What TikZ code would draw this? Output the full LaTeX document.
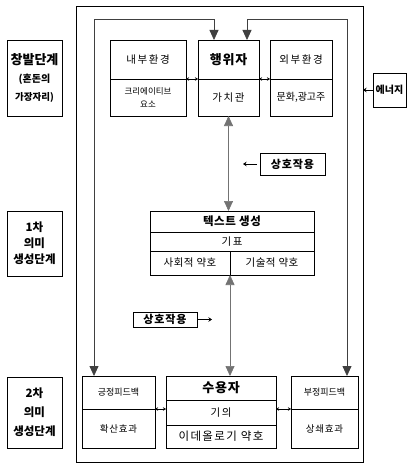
\documentclass[tikz,border=0pt]{standalone}
\usepackage{fontspec}
\setmainfont{Noto Sans CJK KR}
\usetikzlibrary{arrows.meta}
\newcommand{\fsz}[2]{\fontsize{#1}{#2}\selectfont}
\newcommand{\lsp}[1]{\addfontfeature{LetterSpace=#1}}
\begin{document}
\begin{tikzpicture}[x=1pt,y=-1pt,
  cell/.style={draw,line width=0.8pt,inner sep=0pt,outer sep=0pt,align=center,anchor=center},
  frame/.style={draw,line width=0.9pt,inner sep=0pt,outer sep=0pt},
  loop/.style={draw=black!75,line width=0.8pt},
  con/.style={draw=black!55,line width=0.7pt},
  bigtip/.style={{Triangle[width=9pt,length=10pt]}-{Triangle[width=9pt,length=10pt]}},
  smalltip/.style={{Stealth[length=3pt,width=3.5pt]}-{Stealth[length=3pt,width=3.5pt]}},
  tipl/.style={-{Stealth[length=3.5pt,width=4.5pt]}},
  hd/.style={font=\fsz{13}{14}\bfseries\lsp{6}},
  tx/.style={font=\fsz{10.5}{12}\lsp{15}},
  ]
\useasboundingbox (0,0) rectangle (410,468);
\fill[white] (0,0) rectangle (410,468);
% outer frame
\node[frame,minimum width=287,minimum height=456] (outer) at (219.5,234) {};
% left stage labels
\node[cell,minimum width=55,minimum height=76,font=\fsz{13}{19}\bfseries] (s0) at (34.5,78) {창발단계\\[-1pt]{\fsz{10}{19}(혼돈의}\\[-1pt]{\fsz{9.5}{19}가장자리)}};
\node[cell,minimum width=55,minimum height=65,font=\fsz{11.5}{16}\bfseries] (s1) at (34.5,243.5) {1차\\의미\\생성단계};
\node[cell,minimum width=55,minimum height=71,font=\fsz{11.5}{19}\bfseries] (s2) at (34.5,412.5) {2차\\의미\\생성단계};
% top row
\node[cell,minimum width=76,minimum height=39,tx] (naeT) at (148,59.5) {내부환경};
\node[cell,minimum width=76,minimum height=37,font=\fsz{8.5}{13}] (naeB) at (148,97.5) {크리에이티브\\요소};
\node[cell,minimum width=61,minimum height=39,hd] (haengT) at (228.5,59.5) {행위자};
\node[cell,minimum width=61,minimum height=37,tx] (haengB) at (228.5,97.5) {가치관};
\node[cell,minimum width=62,minimum height=39,tx] (oeT) at (301,59.5) {외부환경};
\node[cell,minimum width=62,minimum height=37,font=\fsz{10}{12}] (oeB) at (301,97.5) {문화,광고주};
\node[cell,minimum width=33,minimum height=34,font=\fsz{10}{12}\bfseries] (en) at (389.5,90) {에너지};
% text generation
\node[cell,minimum width=164,minimum height=21,font=\fsz{11.5}{13}\bfseries\lsp{5}] (tT) at (232,221.5) {텍스트 생성};
\node[cell,minimum width=164,minimum height=19,tx] (tM) at (232,241.5) {기표};
\node[cell,minimum width=80,minimum height=24,font=\fsz{10.5}{12}\lsp{5}] (tL) at (190,263) {사회적 약호};
\node[cell,minimum width=84,minimum height=24,font=\fsz{10.5}{12}\lsp{5}] (tR) at (272,263) {기술적 약호};
% interaction labels
\node[cell,minimum width=65,minimum height=22,font=\fsz{11}{13}\bfseries\lsp{8}] (i1) at (292.5,164) {상호작용};
\node[cell,minimum width=64,minimum height=15,font=\fsz{11}{13}\bfseries\lsp{8}] (i2) at (165,319.5) {상호작용};
\coordinate (i1e) at (243,164);
\coordinate (i2e) at (212,319.5);
% bottom row
\node[cell,minimum width=73,minimum height=33,font=\fsz{9}{11}] (gT) at (118.5,392.5) {긍정피드백};
\node[cell,minimum width=73,minimum height=39,font=\fsz{9.5}{11}\lsp{8}] (gB) at (118.5,428.5) {확산효과};
\node[cell,minimum width=110,minimum height=24,hd] (sT) at (221,388) {수용자};
\node[cell,minimum width=110,minimum height=25,tx] (sM) at (221,412.5) {기의};
\node[cell,minimum width=110,minimum height=23,font=\fsz{11.5}{13}\lsp{12}] (sB) at (221,436.5) {이데올로기 약호};
\node[cell,minimum width=67,minimum height=33,font=\fsz{9}{11}] (bT) at (324.5,392.5) {부정피드백};
\node[cell,minimum width=67,minimum height=39,font=\fsz{9.5}{11}\lsp{8}] (bB) at (324.5,428.5) {상쇄효과};
% loop lines
\coordinate (L) at (94,19);
\coordinate (R) at (347,19);
\draw[loop,bigtip] ([xshift=-24.5pt]gT.north) -- (L) -| ([xshift=-14.5pt]haengT.north);
\draw[loop,bigtip] ([xshift=22.5pt]bT.north) -- (R) -| ([xshift=18.5pt]haengT.north);
% vertical connectors
\draw[con,bigtip] (haengB.south) -- (tT.north -| haengB.south);
\draw[con,bigtip] (tL.south east) -- (sT.north -| tL.south east);
% small double arrows
\draw[smalltip,line width=0.5pt] (naeB.north east) -- (haengB.north west);
\draw[smalltip,line width=0.5pt] (haengB.north east) -- (oeB.north west);
\draw[smalltip,line width=0.5pt] (gB.north east) -- (gB.north east -| sM.west);
\draw[smalltip,line width=0.5pt] (bB.north west) -- (bB.north west -| sM.east);
% energy and interaction arrows
\draw[tipl,line width=0.6pt] (en.west) -- (en.west -| outer.east);
\draw[tipl,line width=0.6pt] ([xshift=-3pt]i1.west) -- (i1e);
\draw[tipl,line width=0.6pt] (i2.east) -- (i2e);
\end{tikzpicture}
\end{document}
